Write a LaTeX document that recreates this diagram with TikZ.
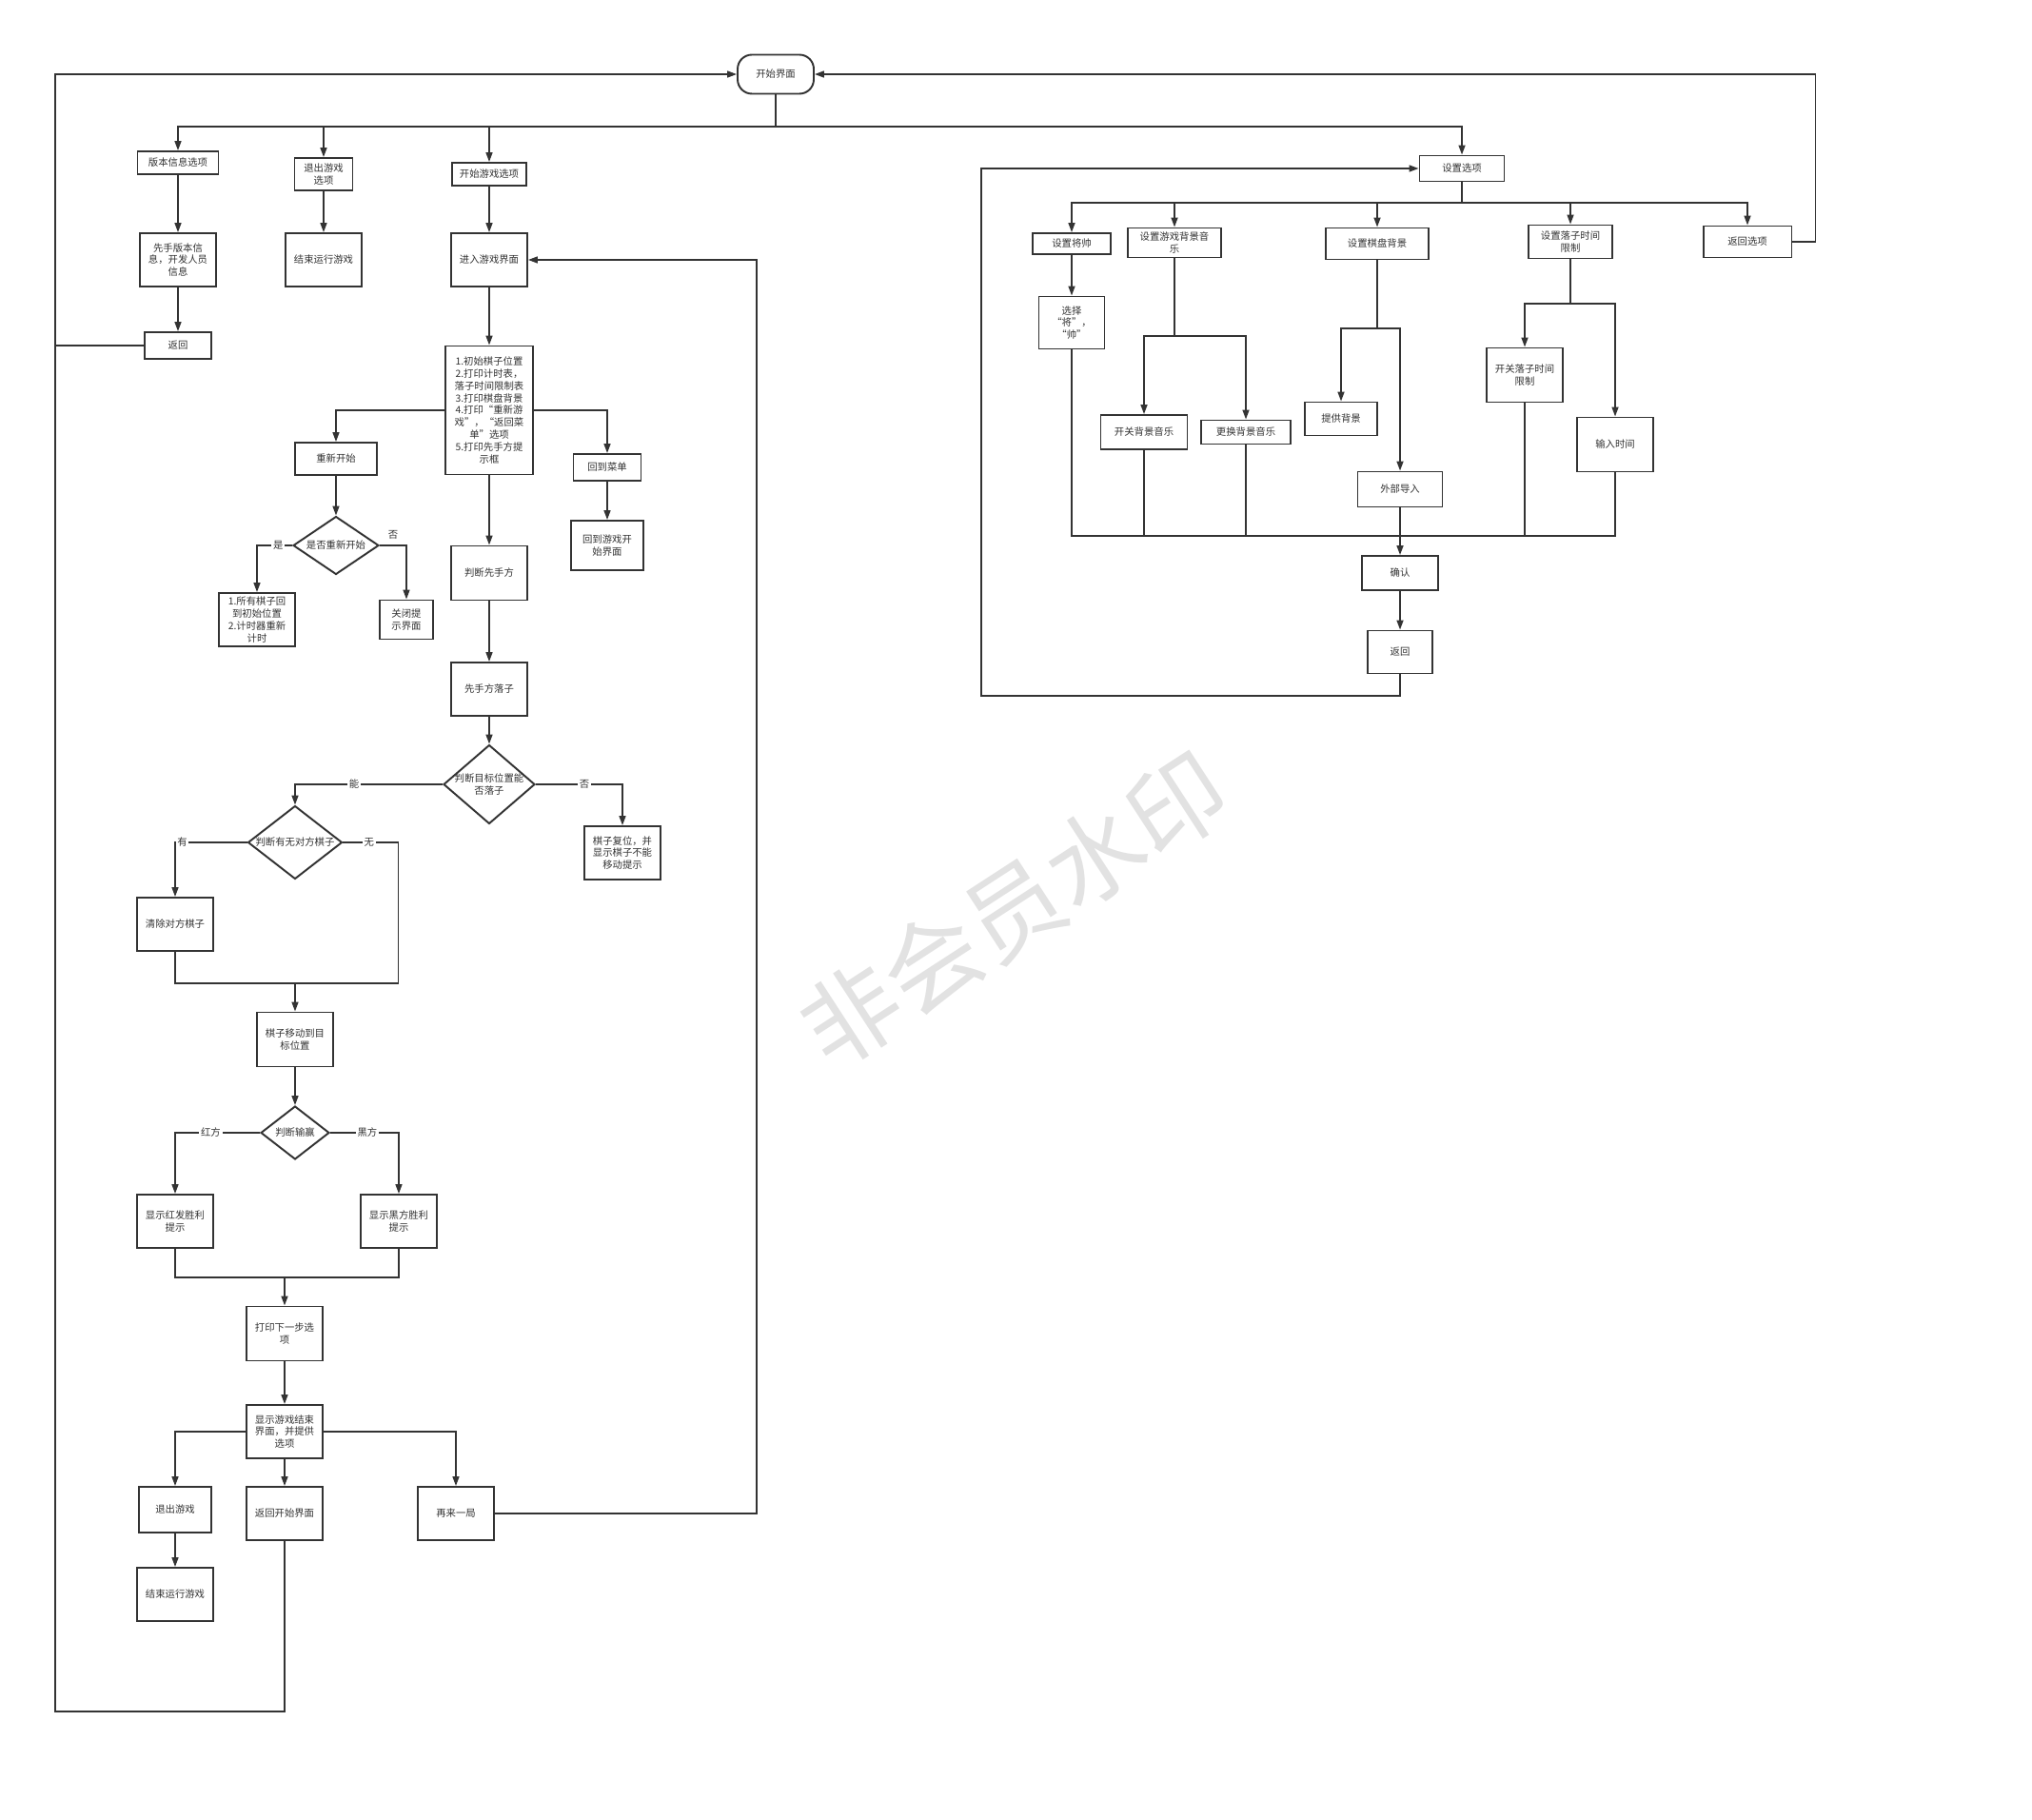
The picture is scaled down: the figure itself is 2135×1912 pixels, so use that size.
\documentclass[tikz,border=0pt]{standalone}
\usepackage{fontspec}
\setmainfont{Noto Sans CJK SC}
\usepackage{tikz}
\usetikzlibrary{shapes.geometric, arrows.meta, positioning, calc}
\definecolor{lineGray}{RGB}{51, 51, 51}
\definecolor{markGray}{RGB}{226, 226, 226}

\begin{document}
\begin{tikzpicture}[x=0.02cm, y=-0.02cm,
    every node/.style={font=\fontsize{5.9}{7.3}\selectfont, text=lineGray},
    box/.style={draw=lineGray, line width=1.1pt, fill=white, inner sep=0pt, align=center},
    startbox/.style={box, rounded corners=0.3cm},
    decision/.style={diamond, draw=lineGray, line width=1.1pt, fill=white, inner sep=0pt},
    link/.style={draw=lineGray, line width=0.9pt},
    arr/.style={link, -{Triangle[length=0.2cm, width=0.14cm]}},
    edgelabel/.style={fill=white, inner sep=1pt}]
      \useasboundingbox (0,0) rectangle (2135,1912);
      \fill[white] (0,0) rectangle (2135,1912);

      % Watermark
      \node[rotate=33, text=markGray, font=\fontsize{58}{58}\selectfont] (watermark) at (1065,955) {非会员水印};

      % Start screen and main options
      \node[startbox, minimum width=1.6cm, minimum height=0.82cm] (start) at (815,78) {开始界面};
      \node[box, minimum width=1.7cm, minimum height=0.48cm] (ver) at (187,171) {版本信息选项};
      \node[box, minimum width=1.22cm, minimum height=0.68cm] (quitopt) at (340,183) {退出游戏\\选项};
      \node[box, minimum width=1.56cm, minimum height=0.48cm] (startopt) at (514,183) {开始游戏选项};
      \node[box, minimum width=1.6cm, minimum height=1.12cm] (verinfo) at (187,273) {先手版本信\\息，开发人员\\信息};
      \node[box, minimum width=1.6cm, minimum height=1.12cm] (endgame1) at (340,273) {结束运行游戏};
      \node[box, minimum width=1.6cm, minimum height=1.12cm] (entergame) at (514,273) {进入游戏界面};
      \node[box, minimum width=1.4cm, minimum height=0.56cm] (back1) at (187,363) {返回};

      % Game screen
      \node[box, minimum width=1.84cm, minimum height=2.7cm] (init) at (514,431) {1.初始棋子位置\\2.打印计时表，\\落子时间限制表\\3.打印棋盘背景\\4.打印“重新游\\戏”，“返回菜\\单”选项\\5.打印先手方提\\示框};
      \node[box, minimum width=1.72cm, minimum height=0.68cm] (restart) at (353,482) {重新开始};
      \node[box, minimum width=1.42cm, minimum height=0.56cm] (tomenu) at (638,491) {回到菜单};
      \node[box, minimum width=1.52cm, minimum height=1.04cm] (tostart) at (638,573) {回到游戏开\\始界面};
      \node[decision, minimum width=1.8cm, minimum height=1.22cm,
        label={center:是否重新开始}] (askrestart) at (353,573) {};
      \node[box, minimum width=1.6cm, minimum height=1.12cm] (resetbox) at (270,651) {1.所有棋子回\\到初始位置\\2.计时器重新\\计时};
      \node[box, minimum width=1.12cm, minimum height=0.82cm] (closebox) at (427,651) {关闭提\\示界面};
      \node[box, minimum width=1.6cm, minimum height=1.14cm] (judgefirst) at (514,602) {判断先手方};
      \node[box, minimum width=1.6cm, minimum height=1.12cm] (firstmove) at (514,724) {先手方落子};

      % Moving a piece
      \node[decision, minimum width=1.92cm, minimum height=1.66cm,
        label={[align=center]center:判断目标位置能\\否落子}] (canplace) at (514,824) {};
      \node[decision, minimum width=1.98cm, minimum height=1.54cm,
        label={center:判断有无对方棋子}] (hasenemy) at (310,885) {};
      \node[box, minimum width=1.6cm, minimum height=1.12cm] (resetpiece) at (654,896) {棋子复位，并\\显示棋子不能\\移动提示};
      \node[box, minimum width=1.6cm, minimum height=1.12cm] (clearenemy) at (184,971) {清除对方棋子};
      \node[box, minimum width=1.6cm, minimum height=1.14cm] (movepiece) at (310,1092) {棋子移动到目\\标位置};

      % End of game
      \node[decision, minimum width=1.44cm, minimum height=1.12cm,
        label={center:判断输赢}] (whowins) at (310,1190) {};
      \node[box, minimum width=1.6cm, minimum height=1.12cm] (redwin) at (184,1283) {显示红发胜利\\提示};
      \node[box, minimum width=1.6cm, minimum height=1.12cm] (blackwin) at (419,1283) {显示黑方胜利\\提示};
      \node[box, minimum width=1.6cm, minimum height=1.14cm] (printnext) at (299,1401) {打印下一步选\\项};
      \node[box, minimum width=1.6cm, minimum height=1.12cm] (gameover) at (299,1504) {显示游戏结束\\界面，并提供\\选项};
      \node[box, minimum width=1.52cm, minimum height=0.96cm] (quitgame) at (184,1586) {退出游戏};
      \node[box, minimum width=1.6cm, minimum height=1.12cm] (backstart) at (299,1590) {返回开始界面};
      \node[box, minimum width=1.6cm, minimum height=1.12cm] (again) at (479,1590) {再来一局};
      \node[box, minimum width=1.6cm, minimum height=1.12cm] (endgame2) at (184,1675) {结束运行游戏};

      % Settings
      \node[box, minimum width=1.78cm, minimum height=0.54cm] (settings) at (1536,177) {设置选项};
      \node[box, minimum width=1.64cm, minimum height=0.44cm] (setgen) at (1126,256) {设置将帅};
      \node[box, minimum width=1.96cm, minimum height=0.62cm] (setmusic) at (1234,255) {设置游戏背景音\\乐};
      \node[box, minimum width=2.16cm, minimum height=0.66cm] (setboard) at (1447,256) {设置棋盘背景};
      \node[box, minimum width=1.76cm, minimum height=0.7cm] (settime) at (1650,254) {设置落子时间\\限制};
      \node[box, minimum width=1.86cm, minimum height=0.66cm] (backopt) at (1836,254) {返回选项};
      \node[box, minimum width=1.38cm, minimum height=1.1cm] (choosegen) at (1126,339) {选择\\“将”，\\“帅”};
      \node[box, minimum width=1.82cm, minimum height=0.72cm] (togglemusic) at (1202,454) {开关背景音乐};
      \node[box, minimum width=1.88cm, minimum height=0.5cm] (changemusic) at (1309,454) {更换背景音乐};
      \node[box, minimum width=1.52cm, minimum height=0.7cm] (providebg) at (1409,440) {提供背景};
      \node[box, minimum width=1.78cm, minimum height=0.74cm] (importbg) at (1471,514) {外部导入};
      \node[box, minimum width=1.6cm, minimum height=1.14cm] (toggletime) at (1602,394) {开关落子时间\\限制};
      \node[box, minimum width=1.6cm, minimum height=1.14cm] (inputtime) at (1697,467) {输入时间};
      \node[box, minimum width=1.6cm, minimum height=0.72cm] (confirm) at (1471,602) {确认};
      \node[box, minimum width=1.36cm, minimum height=0.9cm] (back2) at (1471,685) {返回};

      % Bend points
      \coordinate (topbus) at (0,133);
      \coordinate (leftrail) at (58,1798);
      \coordinate (rightrail) at (795,1000);
      \coordinate (merge1) at (310,1033);
      \coordinate (merge2) at (299,1342);
      \coordinate (setbus) at (0,213);
      \coordinate (musfork) at (1234,353);
      \coordinate (boardfork) at (1447,345);
      \coordinate (timefork) at (1650,319);
      \coordinate (setmerge) at (1471,563);
      \coordinate (setloop) at (1031,731);

      % Start screen branches
      \draw[arr] (start.south) -- (start.south |- topbus) -| (ver.north);
      \draw[arr] (start.south) -- (start.south |- topbus) -| (quitopt.north);
      \draw[arr] (start.south) -- (start.south |- topbus) -| (startopt.north);
      \draw[arr] (start.south) -- (start.south |- topbus) -| (settings.north);
      \draw[arr] (ver) -- (verinfo);
      \draw[arr] (verinfo) -- (back1);
      \draw[arr] (quitopt) -- (endgame1);
      \draw[arr] (startopt) -- (entergame);
      \draw[link] (back1.west) -- (back1.west -| leftrail);
      \draw[arr] (backstart.south) |- (leftrail) |- (start.west);
      \draw[arr] (backopt.east) -- ++(24,0) |- (start.east);

      % Game flow
      \draw[arr] (entergame) -- (init);
      \draw[arr] (init.west) -| (restart.north);
      \draw[arr] (init.east) -| (tomenu.north);
      \draw[arr] (tomenu) -- (tostart);
      \draw[arr] (restart) -- (askrestart);
      \draw[arr] (askrestart.west) -| node[edgelabel, pos=0.2] {是} (resetbox.north);
      \draw[arr] (askrestart.east) -| node[above, pos=0.25] {否} (closebox.north);
      \draw[arr] (init) -- (judgefirst);
      \draw[arr] (judgefirst) -- (firstmove);
      \draw[arr] (firstmove) -- (canplace);
      \draw[arr] (canplace.west) -| node[edgelabel, pos=0.3] {能} (hasenemy.north);
      \draw[arr] (canplace.east) -| node[edgelabel, pos=0.28] {否} (resetpiece.north);
      \draw[arr] (hasenemy.west) -| node[edgelabel, pos=0.45] {有} (clearenemy.north);
      \draw[link] (hasenemy.east) -- node[edgelabel, pos=0.47] {无} ++(58,0) |- (merge1);
      \draw[link] (clearenemy.south) |- (merge1);
      \draw[arr] (merge1) -- (movepiece.north);
      \draw[arr] (movepiece) -- (whowins);
      \draw[arr] (whowins.west) -| node[edgelabel, pos=0.29] {红方} (redwin.north);
      \draw[arr] (whowins.east) -| node[edgelabel, pos=0.27] {黑方} (blackwin.north);
      \draw[link] (redwin.south) |- (merge2);
      \draw[link] (blackwin.south) |- (merge2);
      \draw[arr] (merge2) -- (printnext.north);
      \draw[arr] (printnext) -- (gameover);
      \draw[arr] (gameover.west) -| (quitgame.north);
      \draw[arr] (gameover.east) -| (again.north);
      \draw[arr] (gameover) -- (backstart);
      \draw[arr] (quitgame) -- (endgame2);
      \draw[arr] (again.east) -| (rightrail) |- (entergame.east);

      % Settings flow
      \draw[arr] (settings.south) -- (settings.south |- setbus) -| (setgen.north);
      \draw[arr] (settings.south) -- (settings.south |- setbus) -| (setmusic.north);
      \draw[arr] (settings.south) -- (settings.south |- setbus) -| (setboard.north);
      \draw[arr] (settings.south) -- (settings.south |- setbus) -| (settime.north);
      \draw[arr] (settings.south) -- (settings.south |- setbus) -| (backopt.north);
      \draw[arr] (setgen) -- (choosegen);
      \draw[link] (setmusic.south) -- (musfork);
      \draw[arr] (musfork) -| (togglemusic.north);
      \draw[arr] (musfork) -| (changemusic.north);
      \draw[link] (setboard.south) -- (boardfork);
      \draw[arr] (boardfork) -| (providebg.north);
      \draw[arr] (boardfork) -| (importbg.north);
      \draw[link] (settime.south) -- (timefork);
      \draw[arr] (timefork) -| (toggletime.north);
      \draw[arr] (timefork) -| (inputtime.north);
      \draw[link] (choosegen.south) |- (setmerge);
      \draw[link] (togglemusic.south) |- (setmerge);
      \draw[link] (changemusic.south) |- (setmerge);
      \draw[link] (toggletime.south) |- (setmerge);
      \draw[link] (inputtime.south) |- (setmerge);
      \draw[arr] (importbg) -- (confirm);
      \draw[arr] (confirm) -- (back2);
      \draw[arr] (back2.south) |- (setloop) |- (settings.west);
    \end{tikzpicture}
\end{document}
